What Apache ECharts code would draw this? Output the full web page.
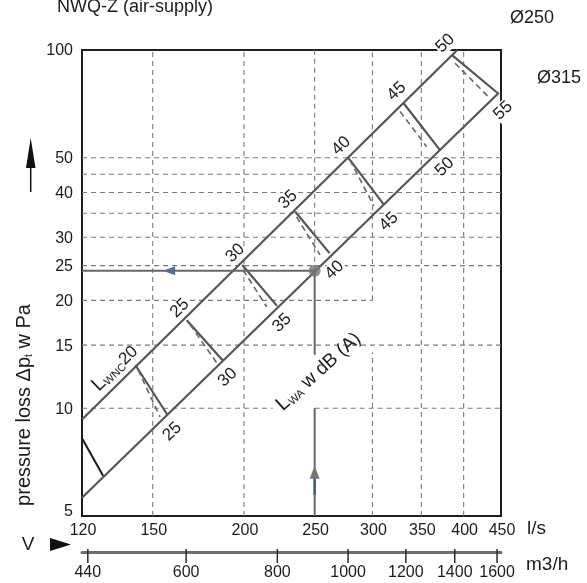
<!DOCTYPE html>
<html>
<head>
<meta charset="utf-8">
<title>NWQ-Z (air-supply)</title>
<script src="https://cdn.jsdelivr.net/npm/echarts@6/dist/echarts.min.js"></script>
<style>
html,body{margin:0;padding:0;background:#fff;}
#chart{width:587px;height:583px;}
</style>
</head>
<body>
<div id="chart"></div>
<script>
// ---------------- data ----------------
const flowTicksLs = [120, 150, 200, 250, 300, 350, 400, 450];
const flowTicksM3h = [440, 600, 800, 1000, 1200, 1400, 1600];
const pressureTicks = [5, 10, 15, 20, 25, 30, 40, 50, 100];
// horizontal dashed grid: [pressure, flowFrom, flowTo]
const hGridLines = [[10,120,219],[10,250,450],[15,120,450],[20,120,300],[25,120,450],[30,120,450],[35,120,450],[40,120,450],[45,120,450],[50,120,450]];
// vertical dashed grid: [flow, pressureFrom, pressureTo]
const vGridLines = [[150,5,100],[200,5,100],[250,24.2,100],[300,20,100],[300,5,14.3],[350,5,100],[400,5,100]];
const ductUpper = [[120, 9.3], [392, 100]];   // Ø250
const ductLower = [[120, 5.62], [447, 76]];   // Ø315
const soundUpperPts = [[142,13.2],[167,17.6],[199,25.1],[235,35.4],[278,50],[331,71],[386,96.6]];
const soundLowerPts = [[157,9.6],[187,13.6],[222,19.3],[262,27.1],[311,37],[371,52.6],[446,75.6]];
const dashUpperPts = [[143.2,12.8],[168.8,17.1],[199.5,24.3],[236.1,34.2],[279.4,49.3],[327.3,67.3],[389.2,91.8]];
const dashLowerPts = [[153.5,9.45],[183.5,13.4],[214.9,19.2],[254.2,26.8],[301.4,36.7],[356,53.7],[434.7,73.3]];
const edgeCross = [[120, 8.24], [128.3, 6.47]];
const upperLabels = ['20','25','30','35','40','45','50'];
const lowerLabels = ['25','30','35','40','45','50','55'];
const operatingPoint = [250, 24.2];
const leaderBreak = [14.1, 10];
const leftArrowFlow = 155;
const upArrowPressure = 6.6;

// ---------------- chart ----------------
const FONT = "'Liberation Sans', Arial, Helvetica, sans-serif";
const TXT = '#1c1c1c';
const chart = echarts.init(document.getElementById('chart'), null, {renderer: 'canvas'});

function segSeries(segs, style, z, xi) {
  return {
    type: 'custom', coordinateSystem: 'cartesian2d', xAxisIndex: xi || 0, yAxisIndex: 0,
    silent: true, z: z, encode: {x: [0, 2], y: [1, 3]}, data: segs,
    renderItem: function (params, api) {
      const a = api.coord([api.value(0), api.value(1)]);
      const b = api.coord([api.value(2), api.value(3)]);
      return {type: 'line', shape: {x1: a[0], y1: a[1], x2: b[0], y2: b[1]},
        style: Object.assign({fill: null}, style)};
    }
  };
}
const gridSegs = hGridLines.map(r => [r[1], r[0], r[2], r[0]])
  .concat(vGridLines.map(r => [r[0], r[1], r[0], r[2]]));
const solidCross = soundUpperPts.map((p, i) => [p[0], p[1], soundLowerPts[i][0], soundLowerPts[i][1]]);
const dashCross = dashUpperPts.map((p, i) => [p[0], p[1], dashLowerPts[i][0], dashLowerPts[i][1]]);
const opSegs = [
  [ductUpper[0][0], operatingPoint[1], operatingPoint[0], operatingPoint[1]],
  [operatingPoint[0], operatingPoint[1], operatingPoint[0], leaderBreak[0]],
  [operatingPoint[0], leaderBreak[1], operatingPoint[0], 5]
];
const DEG = Math.PI / 180;

const option = {
  animation: false,
  backgroundColor: '#fff',
  grid: {left: 82, top: 50, width: 419, height: 466, show: true, borderColor: '#1e1e1e', borderWidth: 2, backgroundColor: 'transparent'},
  xAxis: [
    {type: 'log', min: 120, max: 450, axisLine: {show: false}, axisTick: {show: false}, axisLabel: {show: false}, splitLine: {show: false}},
    {type: 'log', min: 432, max: 1620, position: 'bottom', offset: 36,
     axisLine: {show: true, lineStyle: {color: '#6e6e6e', width: 3}}, axisTick: {show: false}, axisLabel: {show: false}, splitLine: {show: false}}
  ],
  yAxis: [{type: 'log', min: 5, max: 100, axisLine: {show: false}, axisTick: {show: false}, axisLabel: {show: false}, splitLine: {show: false}}],
  series: [
    segSeries(gridSegs, {stroke: '#7a7a7a', lineWidth: 1.1, lineDash: [5, 4]}, 1),
    {type: 'line', data: ductUpper, symbol: 'none', z: 3, lineStyle: {color: '#555', width: 2.2}},
    {type: 'line', data: ductLower, symbol: 'none', z: 3, lineStyle: {color: '#555', width: 2.2}},
    segSeries(solidCross, {stroke: '#555', lineWidth: 2.2}, 3),
    segSeries(dashCross, {stroke: '#666', lineWidth: 1.6, lineDash: [6, 4]}, 3),
    segSeries([[edgeCross[0][0], edgeCross[0][1], edgeCross[1][0], edgeCross[1][1]]], {stroke: '#1a1a1a', lineWidth: 2}, 3),
    segSeries(opSegs, {stroke: '#666', lineWidth: 2}, 4),
    {type: 'scatter', data: [operatingPoint], symbol: 'circle', symbolSize: 12, z: 6, itemStyle: {color: '#737373'}},
    // arrows on the leader lines
    {type: 'custom', silent: true, z: 5, data: [[leftArrowFlow, operatingPoint[1], operatingPoint[0], upArrowPressure]], encode: {x: [0, 2], y: [1, 3]},
     renderItem: function (params, api) {
       const h = api.coord([api.value(0), api.value(1)]);
       const v = api.coord([api.value(2), api.value(3)]);
       return {type: 'group', children: [
         {type: 'polygon', shape: {points: [[h[0], h[1]], [h[0] + 12, h[1] - 4.5], [h[0] + 12, h[1] + 4.5]]}, style: {fill: '#5b6a9a'}},
         {type: 'polygon', shape: {points: [[v[0], v[1] - 7], [v[0] + 5, v[1] + 6], [v[0] - 5, v[1] + 6]]}, style: {fill: '#767676'}},
         {type: 'line', shape: {x1: v[0], y1: v[1] + 6, x2: v[0], y2: v[1] + 22}, style: {stroke: '#3e5aa6', lineWidth: 2.5}}
       ]};
     }},
    // sound level labels on upper line
    {type: 'custom', silent: true, z: 8, data: soundUpperPts, encode: {x: 0, y: 1},
     renderItem: function (params, api) {
       const c = api.coord([api.value(0), api.value(1)]);
       const i = params.dataIndex;
       if (i === 0) {
         return {type: 'text', x: c[0], y: c[1] - 16, rotation: 44 * DEG,
           style: {text: '{a|L}{b|WNC}{c|' + upperLabels[i] + '}', align: 'right', verticalAlign: 'middle', fill: TXT,
             rich: {a: {fontSize: 20, fontFamily: FONT, fill: TXT}, b: {fontSize: 11, fontFamily: FONT, fill: TXT, verticalAlign: 'bottom'}, c: {fontSize: 17, fontFamily: FONT, fill: TXT}}}};
       }
       return {type: 'text', x: c[0] - 7, y: c[1] - 12, rotation: 44 * DEG,
         style: {text: upperLabels[i], fontSize: 17, fontFamily: FONT, fill: TXT, align: 'center', verticalAlign: 'middle', backgroundColor: '#fff', padding: [0, 1]}};
     }},
    {type: 'custom', silent: true, z: 8, data: soundLowerPts, encode: {x: 0, y: 1},
     renderItem: function (params, api) {
       const c = api.coord([api.value(0), api.value(1)]);
       return {type: 'text', x: c[0] + 5, y: c[1] + 17, rotation: 44 * DEG,
         style: {text: lowerLabels[params.dataIndex], fontSize: 17, fontFamily: FONT, fill: TXT, align: 'center', verticalAlign: 'middle', backgroundColor: '#fff', padding: [0, 1]}};
     }},
    // L_WA label
    {type: 'custom', silent: true, z: 8, data: [operatingPoint], encode: {x: 0, y: 1},
     renderItem: function (params, api) {
       const c = api.coord([api.value(0), api.value(1)]);
       return {type: 'text', x: c[0] + 4, y: c[1] + 101, rotation: 42 * DEG,
         style: {text: '{a|L}{b|WA}{c| w dB (A)}', align: 'center', verticalAlign: 'middle', fill: TXT,
           rich: {a: {fontSize: 20, fontFamily: FONT, fill: TXT}, b: {fontSize: 11, fontFamily: FONT, fill: TXT, verticalAlign: 'bottom'}, c: {fontSize: 19, fontFamily: FONT, fill: TXT}}}};
     }},
    // y tick labels
    {type: 'custom', silent: true, z: 8, data: pressureTicks.map(v => [120, v]), encode: {x: 0, y: 1},
     renderItem: function (params, api) {
       const c = api.coord([api.value(0), api.value(1)]);
       const v = api.value(1);
       return {type: 'text', x: c[0] - 9, y: c[1] + (v === 5 ? -4 : 1),
         style: {text: String(v), fontSize: 16, fontFamily: FONT, fill: TXT, align: 'right', verticalAlign: 'middle'}};
     }},
    // x tick labels l/s
    {type: 'custom', silent: true, z: 8, data: flowTicksLs.map(v => [v, 5]), encode: {x: 0, y: 1},
     renderItem: function (params, api) {
       const c = api.coord([api.value(0), api.value(1)]);
       return {type: 'text', x: c[0] + 1, y: c[1] + 15,
         style: {text: String(api.value(0)), fontSize: 16, fontFamily: FONT, fill: TXT, align: 'center', verticalAlign: 'middle'}};
     }},
    // m3/h ticks and labels
    {type: 'custom', silent: true, z: 8, xAxisIndex: 1, data: flowTicksM3h.map(v => [v, 5]), encode: {x: 0, y: 1},
     renderItem: function (params, api) {
       const c = api.coord([api.value(0), api.value(1)]);
       return {type: 'group', children: [
         {type: 'line', shape: {x1: c[0], y1: c[1] + 33, x2: c[0], y2: c[1] + 47}, style: {stroke: '#2a2a2a', lineWidth: 1.5}},
         {type: 'text', x: c[0], y: c[1] + 57,
          style: {text: String(api.value(0)), fontSize: 16, fontFamily: FONT, fill: TXT, align: 'center', verticalAlign: 'middle'}}
       ]};
     }}
  ],
  graphic: [
    {type: 'text', left: 57, top: -2, style: {text: 'NWQ-Z (air-supply)', fontSize: 18, fontFamily: FONT, fill: TXT}},
    {type: 'text', x: 532, y: 18, style: {text: 'Ø250', fontSize: 18, fontFamily: FONT, fill: TXT, align: 'center', verticalAlign: 'middle'}},
    {type: 'text', x: 559, y: 78, style: {text: 'Ø315', fontSize: 18, fontFamily: FONT, fill: TXT, align: 'center', verticalAlign: 'middle'}},
    {type: 'text', x: 527, y: 529, style: {text: 'l/s', fontSize: 19, fontFamily: FONT, fill: TXT, align: 'left', verticalAlign: 'middle'}},
    {type: 'text', x: 526, y: 565, style: {text: 'm3/h', fontSize: 19, fontFamily: FONT, fill: TXT, align: 'left', verticalAlign: 'middle'}},
    {type: 'text', x: 28, y: 545, style: {text: 'V', fontSize: 19, fontFamily: FONT, fill: TXT, align: 'center', verticalAlign: 'middle'}},
    {type: 'polygon', shape: {points: [[50, 538], [71, 544.5], [50, 551]]}, style: {fill: '#111'}},
    {type: 'polygon', shape: {points: [[30.7, 138], [35.5, 168], [26, 168]]}, style: {fill: '#111'}},
    {type: 'line', shape: {x1: 30.7, y1: 166, x2: 30.7, y2: 192}, style: {stroke: '#111', lineWidth: 1.5}},
    {type: 'text', x: 24, y: 405, rotation: Math.PI / 2,
     style: {text: '{a|pressure loss Δp}{b|t}{a| w Pa}', align: 'center', verticalAlign: 'middle', fill: TXT,
       rich: {a: {fontSize: 20, fontFamily: FONT, fill: TXT}, b: {fontSize: 10, fontFamily: FONT, fill: TXT, verticalAlign: 'bottom'}}}}
  ]
};
chart.setOption(option);
</script>
</body>
</html>
